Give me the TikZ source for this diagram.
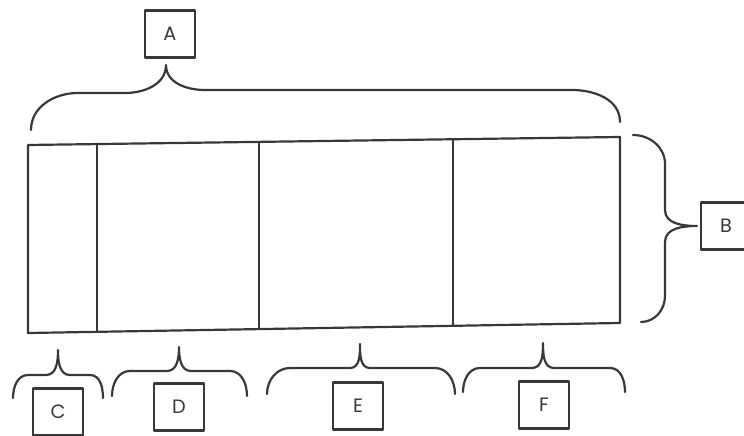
\documentclass[tikz,border=0pt]{standalone}
\usepackage{fontspec}
\setmainfont{Poppins}
\usetikzlibrary{positioning}
\definecolor{pencil}{HTML}{383838}

\tikzset{
  line/.style={draw=pencil, line width=1.25pt, line cap=round, line join=round},
  tag/.style={line, minimum width=1cm, minimum height=0.94cm, inner sep=0pt,
    font=\fontsize{11}{13}\selectfont, text=pencil}
}

\begin{document}
\begin{tikzpicture}[x=0.02cm, y=0.02cm]
  \useasboundingbox (0,0) rectangle (744,436);

  % Bar with four sections
  \draw[line] (28,291) -- (620,299) -- (620,113) -- (28,103) -- cycle;
  \draw[line] (97,292) -- (97,104);
  \draw[line] (259,294) -- (259,107);
  \draw[line] (453,297) -- (453,110);

  % Brace over the whole bar
  \draw[line] (31,306) to[out=90,in=180] (78,343) -- (125,343)
    to[out=0,in=-90] (166,371) to[out=-90,in=180] (205,346) -- (572,346)
    to[out=0,in=90] (620,314);
  \node[tag] (A) at (170,402) {A};

  % Brace at the right side
  \draw[line] (633,301) to[out=0,in=90] (665,272) -- (665,226)
    to[out=-90,in=180] (697,210) to[out=180,in=90] (665,194) -- (665,140)
    to[out=-90,in=0] (641,114);
  \node[tag] (B) at (726,210) {B};

  % Braces under the sections
  \draw[line] (13,38) to[out=90,in=180] (28,61) -- (46,61)
    to[out=0,in=-90] (58,86) to[out=-90,in=180] (70,61) -- (90,61)
    to[out=0,in=90] (103,38);
  \node[tag] (C) at (58,24) {C};

  \draw[line] (112,40) to[out=90,in=180] (130,65) -- (167,65)
    to[out=0,in=-90] (179,89) to[out=-90,in=180] (191,65) -- (230,65)
    to[out=0,in=90] (247,40);
  \node[tag] (D) at (179,29) {D};

  \draw[line] (267,42) to[out=90,in=180] (290,68) -- (350,68)
    to[out=0,in=-90] (360,92) to[out=-90,in=180] (370,68) -- (435,68)
    to[out=0,in=90] (455,42);
  \node[tag] (E) at (358,30) {E};

  \draw[line] (463,44) to[out=90,in=180] (480,68) -- (532,68)
    to[out=0,in=-90] (543,93) to[out=-90,in=180] (554,68) -- (610,68)
    to[out=0,in=90] (625,44);
  \node[tag] (F) at (544,31) {F};
\end{tikzpicture}
\end{document}
